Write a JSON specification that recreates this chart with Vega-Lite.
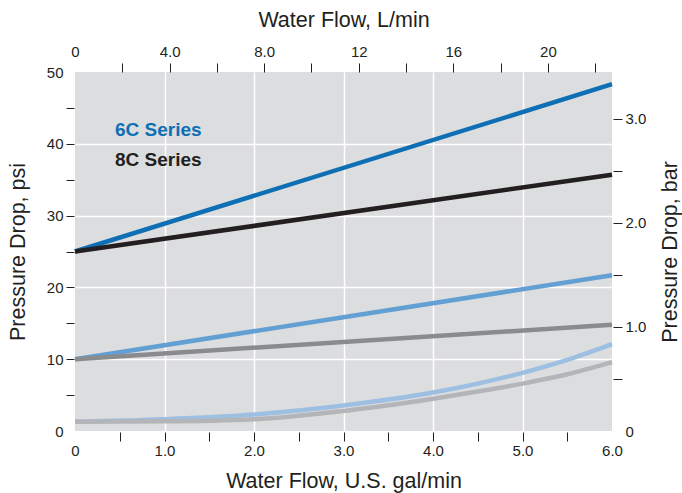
{
  "$schema": "https://vega.github.io/schema/vega-lite/v6.json",
  "width": 537,
  "height": 359,
  "autosize": {"type": "none"},
  "padding": {"left": 75, "top": 72, "right": 70, "bottom": 62},
  "background": "white",
  "config": {
    "font": "Liberation Sans",
    "view": {"fill": "#dcdddf", "stroke": null},
    "axis": {
      "domain": false,
      "labelFontSize": 15,
      "labelColor": "#231f20",
      "tickColor": "#231f20",
      "tickWidth": 1,
      "titleFontSize": 21.5,
      "titleFontWeight": "normal",
      "titleColor": "#231f20",
      "labelFlush": false,
      "labelOverlap": false,
      "gridColor": "white",
      "gridWidth": 1.5
    }
  },
  "datasets": {
    "curves": [
      {"line": "6C Series", "gal": 0, "psi": 25},
      {"line": "6C Series", "gal": 6, "psi": 48.3},
      {"line": "8C Series", "gal": 0, "psi": 25},
      {"line": "8C Series", "gal": 6, "psi": 35.7},
      {"line": "6C mid", "gal": 0, "psi": 10},
      {"line": "6C mid", "gal": 6, "psi": 21.7},
      {"line": "8C mid", "gal": 0, "psi": 10},
      {"line": "8C mid", "gal": 6, "psi": 14.8},
      {"line": "6C low", "gal": 0, "psi": 1.3},
      {"line": "6C low", "gal": 1, "psi": 1.65},
      {"line": "6C low", "gal": 2, "psi": 2.3},
      {"line": "6C low", "gal": 3, "psi": 3.55},
      {"line": "6C low", "gal": 4, "psi": 5.35},
      {"line": "6C low", "gal": 4.5, "psi": 6.6},
      {"line": "6C low", "gal": 5, "psi": 8.1},
      {"line": "6C low", "gal": 5.5, "psi": 9.9},
      {"line": "6C low", "gal": 6, "psi": 12.1},
      {"line": "8C low", "gal": 0, "psi": 1.3},
      {"line": "8C low", "gal": 1, "psi": 1.35},
      {"line": "8C low", "gal": 2, "psi": 1.65},
      {"line": "8C low", "gal": 3, "psi": 2.8},
      {"line": "8C low", "gal": 4, "psi": 4.5},
      {"line": "8C low", "gal": 4.5, "psi": 5.5},
      {"line": "8C low", "gal": 5, "psi": 6.6},
      {"line": "8C low", "gal": 5.5, "psi": 7.9},
      {"line": "8C low", "gal": 6, "psi": 9.6}
    ],
    "axes": [
      {"L": 0, "bar": 0},
      {"L": 22.71, "bar": 3.4474}
    ]
  },
  "layer": [
    {
      "data": {"name": "curves"},
      "mark": {"type": "line", "strokeWidth": 4.5, "interpolate": "monotone", "strokeCap": "butt"},
      "encoding": {
        "x": {
          "field": "gal", "type": "quantitative",
          "scale": {"domain": [0, 6], "nice": false, "zero": false},
          "axis": {
            "orient": "bottom",
            "title": "Water Flow, U.S. gal/min",
            "values": [0, 0.5, 1, 1.5, 2, 2.5, 3, 3.5, 4, 4.5, 5, 5.5, 6],
            "labelExpr": "datum.value == 0 ? '0' : (datum.value % 1 == 0 ? format(datum.value, '.1f') : '')",
            "offset": 1,
            "tickSize": 9,
            "labelPadding": 2,
            "titlePadding": 12,
            "grid": true,
            "tickOpacity": {"condition": {"test": "datum.value == 0 || datum.value == 6", "value": 0}, "value": 1},
            "gridOpacity": {"condition": {"test": "datum.value % 1 != 0 || datum.value == 0 || datum.value == 6", "value": 0}, "value": 1}
          }
        },
        "y": {
          "field": "psi", "type": "quantitative",
          "scale": {"domain": [0, 50], "nice": false},
          "axis": {
            "orient": "left",
            "title": "Pressure Drop, psi",
            "values": [0, 5, 10, 15, 20, 25, 30, 35, 40, 45, 50],
            "labelExpr": "datum.value % 10 == 0 ? format(datum.value, 'd') : ''",
            "offset": 1,
            "tickSize": 8,
            "labelPadding": 3,
            "titlePadding": 17,
            "grid": true,
            "tickOpacity": {"condition": {"test": "datum.value == 0 || datum.value == 50", "value": 0}, "value": 1},
            "gridOpacity": {"condition": {"test": "datum.value % 10 != 0 || datum.value == 0 || datum.value == 50", "value": 0}, "value": 1}
          }
        },
        "color": {
          "field": "line", "type": "nominal",
          "scale": {
            "domain": ["6C Series", "8C Series", "6C mid", "8C mid", "6C low", "8C low"],
            "range": ["#0f6fb4", "#231f20", "#629fd3", "#8a8b8d", "#9dbfe2", "#b4b5b8"]
          },
          "legend": {
            "values": ["6C Series", "8C Series"],
            "orient": "none",
            "legendX": 21,
            "legendY": 48,
            "title": null,
            "symbolOpacity": 0,
            "symbolSize": 0,
            "labelOffset": 0,
            "labelFontSize": 19,
            "labelFontWeight": "bold",
            "rowPadding": 10,
            "encode": {
              "labels": {"update": {"fill": {"signal": "datum.label == '6C Series' ? '#0f6fb4' : '#231f20'"}}}
            }
          }
        }
      }
    },
    {
      "data": {"name": "axes"},
      "mark": {"type": "point", "opacity": 0},
      "encoding": {
        "x": {
          "field": "L", "type": "quantitative",
          "scale": {"domain": [0, 22.71], "nice": false, "zero": false},
          "axis": {
            "orient": "top",
            "title": "Water Flow, L/min",
            "values": [0, 2, 4, 6, 8, 10, 12, 14, 16, 18, 20, 22],
            "labelExpr": "datum.value == 0 ? '0' : (datum.value % 4 != 0 ? '' : (datum.value < 10 ? format(datum.value, '.1f') : format(datum.value, 'd')))",
            "offset": 0,
            "tickSize": 9,
            "labelPadding": 4,
            "titlePadding": 13,
            "grid": false,
            "tickOpacity": {"condition": {"test": "datum.value == 0", "value": 0}, "value": 1}
          }
        },
        "y": {
          "field": "bar", "type": "quantitative",
          "scale": {"domain": [0, 3.4474], "nice": false},
          "axis": {
            "orient": "right",
            "title": "Pressure Drop, bar",
            "titleAngle": 270,
            "titleBaseline": "top",
            "values": [0, 0.5, 1, 1.5, 2, 2.5, 3],
            "labelExpr": "datum.value == 0 ? '0' : (datum.value % 1 == 0 ? format(datum.value, '.1f') : '')",
            "offset": 1,
            "tickSize": 9,
            "labelPadding": 3,
            "titlePadding": 14,
            "grid": false,
            "tickOpacity": {"condition": {"test": "datum.value == 0", "value": 0}, "value": 1}
          }
        }
      }
    }
  ],
  "resolve": {"scale": {"x": "independent", "y": "independent"}}
}
